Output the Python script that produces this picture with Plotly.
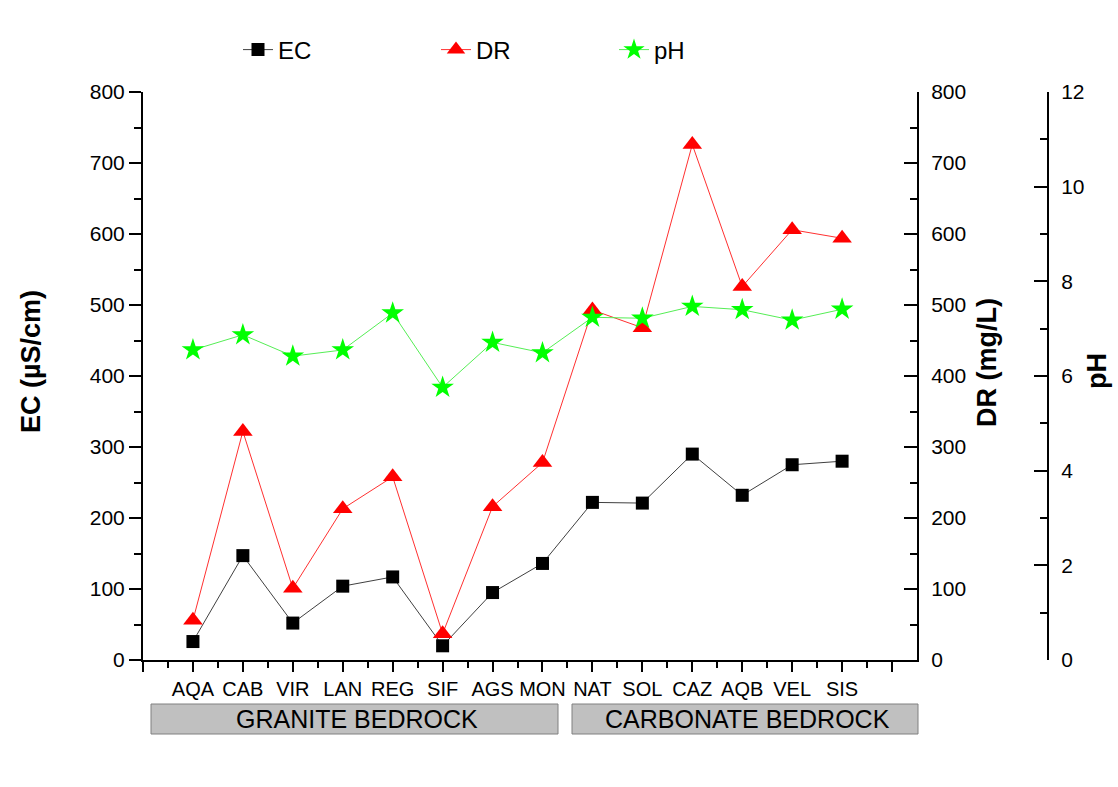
import plotly.graph_objects as go

# Sampling sites and measured parameters
sites = ["AQA", "CAB", "VIR", "LAN", "REG", "SIF", "AGS", "MON",
         "NAT", "SOL", "CAZ", "AQB", "VEL", "SIS"]
ec = [26, 147, 52, 104, 117, 20, 95, 136, 222, 221, 290, 232, 275, 280]      # µS/cm
dr = [56, 322, 101, 213, 258, 37, 216, 278, 493, 468, 726, 526, 606, 594]   # mg/L
ph = [6.55, 6.87, 6.42, 6.55, 7.33, 5.76, 6.71, 6.49, 7.24, 7.22, 7.47, 7.40, 7.18, 7.41]

groups = ["GRANITE BEDROCK", "CARBONATE BEDROCK"]

xpos = list(range(1, len(sites) + 1))

FONT = "Arial, Liberation Sans, sans-serif"

# Layout geometry (pixels)
W, H = 1118, 787
ML, MR, MT, MB = 143, 70, 92, 127
PW = W - ML - MR
PH = H - MT - MB
X_END = (917 - ML) / PW  # right end of the x axis (DR axis position)


def px_x(p):
    return (p - ML) / PW


def px_y(p):
    return (H - MB - p) / PH


fig = go.Figure()

fig.add_trace(go.Scatter(
    x=xpos, y=ec, name="EC", mode="lines+markers",
    line=dict(color="#404040", width=1),
    marker=dict(symbol="square", size=13, color="black"),
    legend="legend", showlegend=True,
))
fig.add_trace(go.Scatter(
    x=xpos, y=dr, name="DR", mode="lines+markers", yaxis="y2",
    line=dict(color="#ff3030", width=1),
    marker=dict(symbol="triangle-up", size=17, color="#ff0000"),
    legend="legend2", showlegend=True,
))
fig.add_trace(go.Scatter(
    x=xpos, y=ph, name="pH", mode="lines+markers", yaxis="y3",
    line=dict(color="#55ee55", width=1),
    marker=dict(symbol="star", size=17, color="#00ff00"),
    legend="legend3", showlegend=True,
))

axis_common = dict(
    showline=True, linecolor="black", linewidth=2,
    showgrid=False, zeroline=False,
    tickcolor="black", tickwidth=2,
    tickfont=dict(family=FONT, size=21, color="black"),
)

legend_common = dict(
    orientation="h", xanchor="left", yanchor="middle",
    bgcolor="rgba(0,0,0,0)",
    font=dict(family=FONT, size=24, color="black"),
)

fig.update_layout(
    width=W, height=H,
    margin=dict(l=ML, r=MR, t=MT, b=MB),
    paper_bgcolor="white", plot_bgcolor="white",
    showlegend=True,
    xaxis=dict(
        domain=[0, X_END], range=[0, 15.5],
        tickmode="array",
        tickvals=list(range(0, 16)),
        ticktext=[""] + sites + [""],
        ticks="outside", ticklen=10,
        minor=dict(tickmode="array",
                   tickvals=[i + 0.5 for i in range(0, 15)],
                   ticks="outside", ticklen=6, tickwidth=2, tickcolor="black"),
        showline=True, linecolor="black", linewidth=2,
        showgrid=False, zeroline=False,
        tickcolor="black", tickwidth=2,
        tickfont=dict(family=FONT, size=20, color="black"),
    ),
    yaxis=dict(
        range=[0, 800], tickmode="linear", tick0=0, dtick=100,
        ticks="outside", ticklen=12,
        minor=dict(dtick=50, ticks="outside", ticklen=7, tickwidth=2, tickcolor="black"),
        **axis_common,
    ),
    yaxis2=dict(
        range=[0, 800], tickmode="linear", tick0=0, dtick=100,
        overlaying="y", side="right", anchor="x",
        ticks="inside", ticklen=13, ticklabelstandoff=8,
        minor=dict(dtick=50, ticks="inside", ticklen=7, tickwidth=2, tickcolor="black"),
        **axis_common,
    ),
    yaxis3=dict(
        range=[0, 12], tickmode="linear", tick0=0, dtick=2,
        overlaying="y", side="right", anchor="free", position=1.0,
        ticks="inside", ticklen=13, ticklabelstandoff=8,
        minor=dict(dtick=1, ticks="inside", ticklen=7, tickwidth=2, tickcolor="black"),
        **axis_common,
    ),
    legend=dict(x=px_x(238), y=px_y(50), **legend_common),
    legend2=dict(x=px_x(436), y=px_y(50), **legend_common),
    legend3=dict(x=px_x(614), y=px_y(50), **legend_common),
)

# Axis titles
title_font = dict(family=FONT, size=27, color="black")
for text, cx, cy in [("<b>EC (µS/cm)</b>", 31, 362),
                     ("<b>DR (mg/L)</b>", 987, 363),
                     ("<b>pH</b>", 1097, 371)]:
    fig.add_annotation(text=text, textangle=-90, showarrow=False,
                       xref="paper", yref="paper", x=px_x(cx), y=px_y(cy),
                       xanchor="center", yanchor="middle", font=title_font)

# Bedrock group boxes under the site labels
boxes = [(151, 558), (572, 918)]
for (bx0, bx1), label in zip(boxes, groups):
    fig.add_shape(type="rect", xref="paper", yref="paper",
                  x0=px_x(bx0), x1=px_x(bx1), y0=px_y(734), y1=px_y(704),
                  fillcolor="#c0c0c0", line=dict(color="#808080", width=1),
                  layer="below")
    fig.add_annotation(text=label, showarrow=False, xref="paper", yref="paper",
                       x=px_x((bx0 + bx1) / 2 + 2), y=px_y(719),
                       xanchor="center", yanchor="middle",
                       font=dict(family=FONT, size=25, color="black"))

fig.write_html("out.html")
